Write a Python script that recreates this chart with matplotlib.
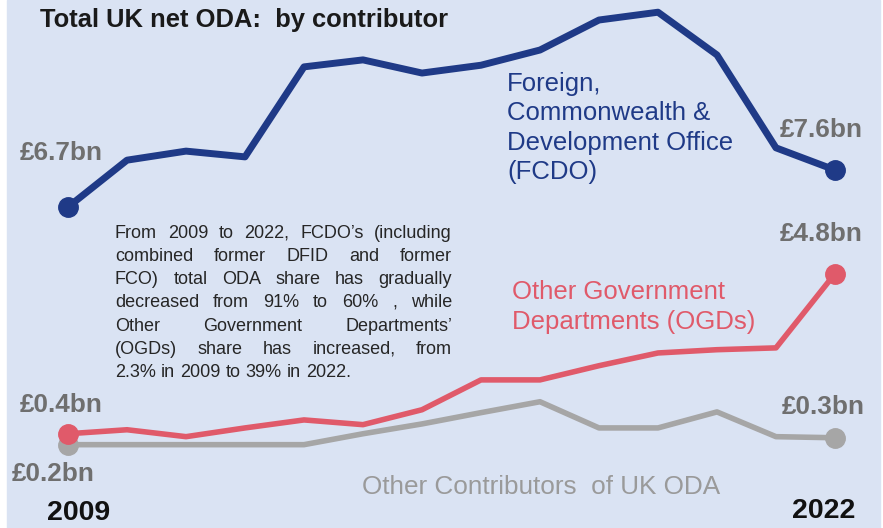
import matplotlib
matplotlib.use("Agg")
import matplotlib.pyplot as plt
from matplotlib.patches import Rectangle

W, H = 883, 528
BG, NAVY, RED, GREY = "#dae3f3", "#1f3a87", "#e05a6a", "#a6a6a6"
LABEL = "#6f6f6f"

# --- values (GBP bn) ---
YEARS = list(range(2009, 2023))
FCDO = [6.7, 7.84, 8.06, 7.92, 10.11, 10.28, 9.96, 10.15, 10.52, 11.25, 11.44, 10.40, 8.14, 7.6]
OGD = [0.4, 0.51, 0.32, 0.56, 0.78, 0.65, 1.06, 1.88, 1.88, 2.27, 2.62, 2.71, 2.76, 4.8]
OTHER = [0.1, 0.1, 0.1, 0.1, 0.1, 0.40, 0.67, 0.98, 1.28, 0.56, 0.56, 1.0, 0.32, 0.29]

NOTE = ["From 2009 to 2022, FCDO\u2019s (including",
        "combined former DFID and former",
        "FCO) total ODA share has gradually",
        "decreased from 91% to 60% , while",
        "Other Government Departments\u2019",
        "(OGDs) share has increased, from",
        "2.3% in 2009 to 39% in 2022."]

plt.rcParams["font.family"] = ["Liberation Sans", "DejaVu Sans"]


def px(x, y):
    return x / W, 1 - y / H


fig = plt.figure(figsize=(W / 100, H / 100), dpi=100)
fig.patch.set_facecolor("white")
fig.patches.append(Rectangle(px(7, H), 873 / W, 1, transform=fig.transFigure,
                             color=BG, zorder=-10))

ax = fig.add_axes([0, 0, 1, 1])
ax.set_facecolor("none")
ax.set_xlim(2007.847, 2022.814)
ax.set_ylim(-2.19, 12.32)
ax.axis("off")
ax2 = ax.twinx()
ax2.set_ylim(-1.11, 11.737)
ax2.axis("off")

ax.plot(YEARS, OTHER, color=GREY, lw=4, solid_joinstyle="round", zorder=3)
ax.plot(YEARS, OGD, color=RED, lw=4, solid_joinstyle="round", zorder=4)
ax2.plot(YEARS, FCDO, color=NAVY, lw=5, solid_joinstyle="round", zorder=5)
for a, s, c in [(ax, OTHER, GREY), (ax, OGD, RED), (ax2, FCDO, NAVY)]:
    a.plot([YEARS[0], YEARS[-1]], [s[0], s[-1]], "o", color=c, ms=14, zorder=6)

fig.text(*px(40, 20), "Total UK net ODA:  by contributor", fontsize=18.4,
         fontweight="bold", color="#1a1a1a", va="center")

lab = dict(fontsize=18.8, fontweight="bold", color=LABEL, va="center")
fig.text(*px(20, 153), "\u00a36.7bn", **lab)
fig.text(*px(780, 130), "\u00a37.6bn", **lab)
fig.text(*px(780, 234), "\u00a34.8bn", **lab)
fig.text(*px(20, 405), "\u00a30.4bn", **lab)
fig.text(*px(12, 474), "\u00a30.2bn", **lab)
fig.text(*px(782, 407), "\u00a30.3bn", **lab)

fig.text(*px(507, 128), "Foreign,\nCommonwealth &\nDevelopment Office\n(FCDO)",
         fontsize=18.5, color=NAVY, va="center", linespacing=1.28)
fig.text(*px(512, 307), "Other Government\nDepartments (OGDs)", fontsize=18.5,
         color=RED, va="center", linespacing=1.32)
fig.text(*px(362, 487), "Other Contributors  of UK ODA", fontsize=18.8,
         color="#9a9a9a", va="center")

fig.text(*px(47, 513), "2009", fontsize=20.5, fontweight="bold", color="#111111", va="center")
fig.text(*px(792, 511), "2022", fontsize=20.5, fontweight="bold", color="#111111", va="center")

# justified note paragraph
renderer = fig.canvas.get_renderer()
fs = 13
x0, x1, y0, dy = 115, 452, 233, 23.3
for i, line in enumerate(NOTE):
    words = line.split(" ")
    y = y0 + i * dy
    arts = [fig.text(0, 0, w, fontsize=fs, color="#262626", va="center") for w in words]
    widths = [t.get_window_extent(renderer).width for t in arts]
    if i < len(NOTE) - 1 and len(words) > 1:
        gap = (x1 - x0 - sum(widths)) / (len(words) - 1)
    else:
        gap = renderer.points_to_pixels(fs) * 0.28
    x = x0
    for t, w in zip(arts, widths):
        t.set_position(px(x, y))
        x += w + gap

fig.savefig("out.png", dpi=100, facecolor=fig.get_facecolor())
